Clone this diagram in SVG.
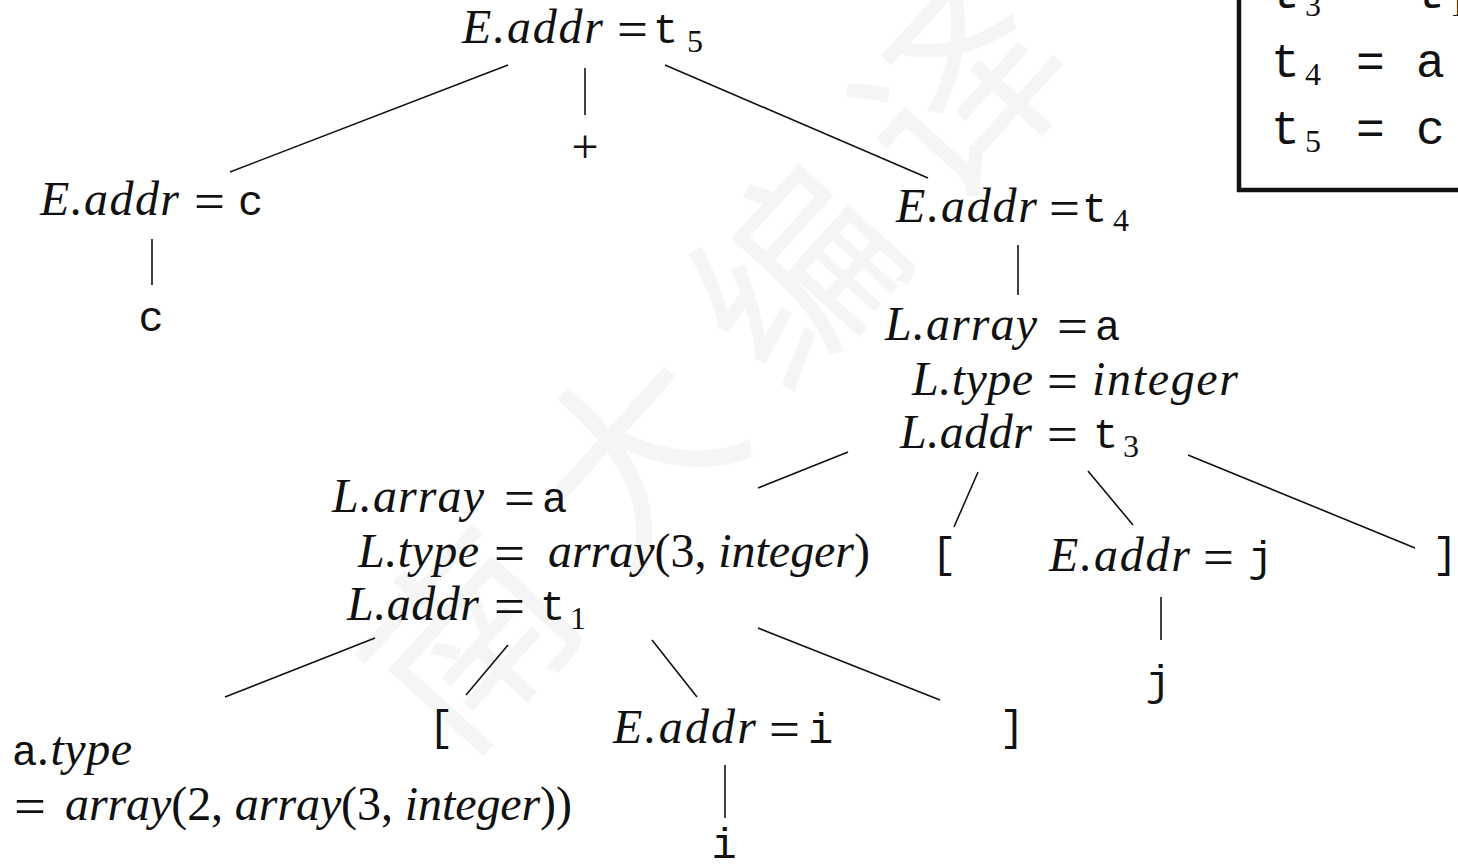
<svg xmlns="http://www.w3.org/2000/svg" width="1458" height="864" viewBox="0 0 1458 864">
<style>
.i{font-family:"Liberation Serif",serif;font-style:italic;font-size:48px;fill:#111}
.u{font-family:"Liberation Serif",serif;font-style:normal;font-size:48px;fill:#111}
.eq{font-family:"Liberation Serif",serif;font-size:52px;fill:#111}
.tt{font-family:"Liberation Mono",monospace;font-size:42px;fill:#111}
.sb{font-family:"Liberation Serif",serif;font-size:32px;fill:#111}
.bx{font-family:"Liberation Mono",monospace;font-size:48px;fill:#111}
.wm{font-family:"Noto Sans CJK SC",sans-serif;font-size:200px;fill:#f5f5f5}
.c line{stroke:#111;stroke-width:1.6}
</style>
<rect width="1458" height="864" fill="#fff"/>
<g id="watermark">
<text class="wm" transform="translate(470,640) rotate(-48)" x="-100" y="72" letter-spacing="45">南大编译</text>
</g>
<g id="connectors" class="c">
<line x1="508" y1="65" x2="230" y2="172"/>
<line x1="585" y1="68" x2="585" y2="115"/>
<line x1="665" y1="65" x2="928" y2="178"/>
<line x1="152" y1="239" x2="152" y2="285"/>
<line x1="1018" y1="245" x2="1018" y2="295"/>
<line x1="848" y1="452" x2="758" y2="488"/>
<line x1="978" y1="472" x2="954" y2="527"/>
<line x1="1088" y1="471" x2="1133" y2="525"/>
<line x1="1188" y1="455" x2="1415" y2="548"/>
<line x1="1161" y1="597" x2="1161" y2="640"/>
<line x1="375" y1="638" x2="225" y2="697"/>
<line x1="508" y1="645" x2="466" y2="695"/>
<line x1="652" y1="640" x2="697" y2="697"/>
<line x1="758" y1="628" x2="940" y2="700"/>
<line x1="725" y1="765" x2="725" y2="818"/>
</g>
<g id="n-root">
<text class="i" x="462" y="43" textLength="141">E.addr</text>
<text class="eq" x="617" y="47" textLength="31" lengthAdjust="spacingAndGlyphs">=</text>
<text class="tt" x="653" y="43">t</text>
<text class="sb" x="687" y="52">5</text>
</g>
<g id="n-plus"><text class="u" x="585" y="163" text-anchor="middle" font-size="44">+</text></g>
<g id="n-Ec">
<text class="i" x="40" y="215" textLength="139">E.addr</text>
<text class="eq" x="194" y="219" textLength="31" lengthAdjust="spacingAndGlyphs">=</text>
<text class="tt" x="238" y="215">c</text>
</g>
<g id="n-c"><text class="tt" x="151" y="331" text-anchor="middle">c</text></g>
<g id="n-Et4">
<text class="i" x="896" y="222" textLength="141">E.addr</text>
<text class="eq" x="1049" y="226" textLength="31" lengthAdjust="spacingAndGlyphs">=</text>
<text class="tt" x="1082" y="222">t</text>
<text class="sb" x="1113" y="231">4</text>
</g>
<g id="n-Lt3">
<text class="i" x="885" y="340" textLength="152">L.array</text>
<text class="eq" x="1057" y="344" textLength="31" lengthAdjust="spacingAndGlyphs">=</text>
<text class="tt" x="1095" y="340">a</text>
<text class="i" x="912" y="395" textLength="121">L.type</text>
<text class="eq" x="1047" y="399" textLength="31" lengthAdjust="spacingAndGlyphs">=</text>
<text class="i" x="1092" y="395" textLength="146">integer</text>
<text class="i" x="900" y="448" textLength="132">L.addr</text>
<text class="eq" x="1047" y="452" textLength="31" lengthAdjust="spacingAndGlyphs">=</text>
<text class="tt" x="1093" y="448">t</text>
<text class="sb" x="1123" y="457">3</text>
</g>
<g id="n-Lt1">
<text class="i" x="332" y="512" textLength="152">L.array</text>
<text class="eq" x="504" y="516" textLength="31" lengthAdjust="spacingAndGlyphs">=</text>
<text class="tt" x="542" y="512">a</text>
<text class="i" x="358" y="567" textLength="121">L.type</text>
<text class="eq" x="494" y="571" textLength="31" lengthAdjust="spacingAndGlyphs">=</text>
<text class="i" x="548" y="567" textLength="322">array<tspan class="u">(3, </tspan>integer<tspan class="u">)</tspan></text>
<text class="i" x="347" y="620" textLength="132">L.addr</text>
<text class="eq" x="494" y="624" textLength="31" lengthAdjust="spacingAndGlyphs">=</text>
<text class="tt" x="540" y="620">t</text>
<text class="sb" x="570" y="629">1</text>
</g>
<g id="n-lb1"><text class="tt" x="944" y="567" text-anchor="middle">[</text></g>
<g id="n-Ej">
<text class="i" x="1049" y="571" textLength="141">E.addr</text>
<text class="eq" x="1203" y="575" textLength="31" lengthAdjust="spacingAndGlyphs">=</text>
<text class="tt" x="1248" y="571">j</text>
</g>
<g id="n-rb1"><text class="tt" x="1445" y="567" text-anchor="middle">]</text></g>
<g id="n-j"><text class="tt" x="1158" y="695" text-anchor="middle">j</text></g>
<g id="n-atype">
<text class="tt" x="12" y="765">a</text>
<text class="i" x="38" y="765" textLength="94">.type</text>
<text class="eq" x="14" y="824" textLength="32" lengthAdjust="spacingAndGlyphs">=</text>
<text class="i" x="65" y="820" textLength="507">array<tspan class="u">(2, </tspan>array<tspan class="u">(3, </tspan>integer<tspan class="u">))</tspan></text>
</g>
<g id="n-lb2"><text class="tt" x="441" y="740" text-anchor="middle">[</text></g>
<g id="n-Ei">
<text class="i" x="613" y="743" textLength="143">E.addr</text>
<text class="eq" x="769" y="747" textLength="31" lengthAdjust="spacingAndGlyphs">=</text>
<text class="tt" x="808" y="743">i</text>
</g>
<g id="n-rb2"><text class="tt" x="1012" y="740" text-anchor="middle">]</text></g>
<g id="n-i"><text class="tt" x="724" y="858" text-anchor="middle">i</text></g>
<g id="code-box">
<path d="M1239,-5 V190 H1465" fill="none" stroke="#111" stroke-width="4.5"/>
<text class="bx" x="1271" y="8">t</text>
<text class="sb" x="1305" y="16">3</text>
<text class="bx" x="1356" y="8">=</text>
<text class="bx" x="1416" y="8">t</text>
<text class="sb" x="1450" y="16">1</text>
<text class="bx" x="1271" y="77">t</text>
<text class="sb" x="1305" y="85">4</text>
<text class="bx" x="1356" y="77">=</text>
<text class="bx" x="1416" y="77">a</text>
<text class="bx" x="1271" y="144">t</text>
<text class="sb" x="1305" y="152">5</text>
<text class="bx" x="1356" y="144">=</text>
<text class="bx" x="1416" y="144">c</text>
</g>
</svg>
